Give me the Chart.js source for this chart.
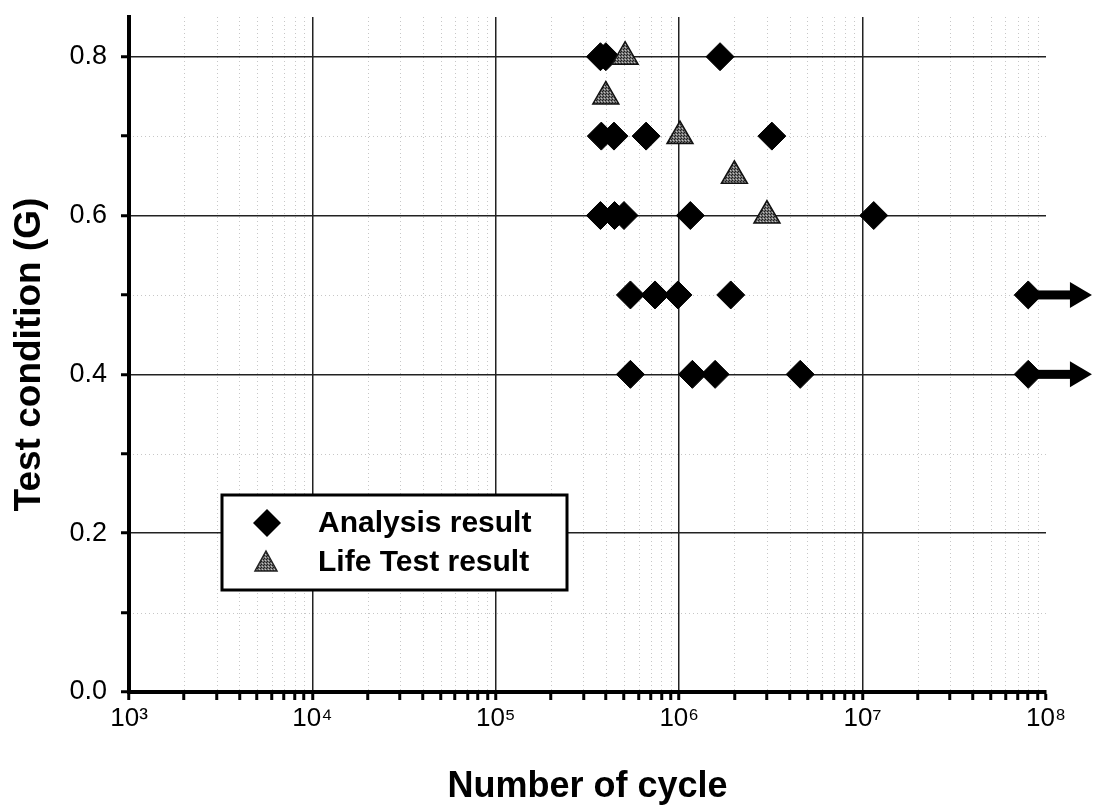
<!DOCTYPE html>
<html>
<head>
<meta charset="utf-8">
<script src="https://cdn.jsdelivr.net/npm/chart.js@4.4.1/dist/chart.umd.min.js"></script>
<style>
  body { margin: 0; background: #fff; }
  #wrap { width: 1093px; height: 809px; }
</style>
</head>
<body>
<div id="wrap"><canvas id="myChart" width="1093" height="809"></canvas></div>
<script>
// decades and minor multipliers of the log axis
const xMajor = [1e3, 1e4, 1e5, 1e6, 1e7, 1e8];
const xMinorMult = [2, 3, 4, 5, 6, 7, 8, 9];
const yTicks = [0, 0.1, 0.2, 0.3, 0.4, 0.5, 0.6, 0.7, 0.8];

// Analysis result (diamonds)
const analysisCycles = [3.72e5, 3.98e5, 1.67e6,
                        3.76e5, 4.41e5, 6.6e5, 3.2e6,
                        3.72e5, 4.44e5, 5.0e5, 1.15e6, 1.15e7,
                        5.42e5, 7.38e5, 9.84e5, 1.91e6, 8.0e7,
                        5.42e5, 1.18e6, 1.57e6, 4.57e6, 8.0e7];
const analysisG = [0.8, 0.8, 0.8,
                   0.7, 0.7, 0.7, 0.7,
                   0.6, 0.6, 0.6, 0.6, 0.6,
                   0.5, 0.5, 0.5, 0.5, 0.5,
                   0.4, 0.4, 0.4, 0.4, 0.4];

// Life Test result (triangles)
const lifeCycles = [5.07e5, 3.98e5, 1.01e6, 2.0e6, 3.01e6];
const lifeG = [0.8, 0.75, 0.7, 0.65, 0.6];

// run-out arrows (no failure yet)
const arrowG = [0.5, 0.4];
const arrowFrom = [8.0e7, 8.0e7];
const arrowTo = [1.78e8, 1.78e8];

const FONT = '"Liberation Sans", Arial, sans-serif';
const sup = {'0':'⁰','1':'¹','2':'²','3':'³','4':'⁴','5':'⁵','6':'⁶','7':'⁷','8':'⁸','9':'⁹'};

let xTickValues = [];
xMajor.forEach((d, i) => {
    xTickValues.push(d);
    if (i < xMajor.length - 1) xMinorMult.forEach(m => xTickValues.push(d * m));
});
const isMajorX = v => xMajor.includes(v);
const isMajorY = v => Math.round(v * 10) % 2 === 0;

// grey dotted fill for the triangles
const pc = document.createElement('canvas');
pc.width = 3; pc.height = 3;
const pctx = pc.getContext('2d');
pctx.fillStyle = '#707070';
pctx.fillRect(0, 0, 3, 3);
pctx.fillStyle = '#1e1e1e';
pctx.fillRect(0, 0, 1, 1);
pctx.fillRect(2, 1, 1, 1);
pctx.fillStyle = '#c4c4c4';
pctx.fillRect(1, 2, 1, 1);
const ctx = document.getElementById('myChart').getContext('2d');
const triFill = ctx.createPattern(pc, 'repeat');

const minorGrid = {
    id: 'minorGrid',
    beforeDatasetsDraw(chart) {
        const {ctx, chartArea: a, scales: {x, y}} = chart;
        ctx.save();
        ctx.strokeStyle = 'rgba(0,0,0,0.22)';
        ctx.lineWidth = 1;
        ctx.setLineDash([1, 3]);
        xTickValues.filter(v => !isMajorX(v)).forEach(v => {
            const px = Math.round(x.getPixelForValue(v)) + 0.5;
            ctx.beginPath(); ctx.moveTo(px, a.top); ctx.lineTo(px, a.bottom); ctx.stroke();
        });
        yTicks.filter(v => !isMajorY(v)).forEach(v => {
            const py = Math.round(y.getPixelForValue(v)) + 0.5;
            ctx.beginPath(); ctx.moveTo(a.left, py); ctx.lineTo(a.right, py); ctx.stroke();
        });
        ctx.restore();
    }
};

const arrows = {
    id: 'arrows',
    afterDatasetsDraw(chart) {
        const {ctx, scales: {x, y}} = chart;
        ctx.save();
        ctx.fillStyle = '#000';
        arrowG.forEach((g, i) => {
            const x1 = x.getPixelForValue(arrowFrom[i]);
            const x2 = x.getPixelForValue(arrowTo[i]);
            const py = y.getPixelForValue(g);
            ctx.fillRect(x1, py - 4.5, x2 - 20 - x1, 9);
            ctx.beginPath();
            ctx.moveTo(x2, py);
            ctx.lineTo(x2 - 22, py - 13);
            ctx.lineTo(x2 - 22, py + 13);
            ctx.closePath();
            ctx.fill();
        });
        ctx.restore();
    }
};

const boxLegend = {
    id: 'boxLegend',
    afterDraw(chart) {
        const c = chart.ctx;
        c.save();
        c.fillStyle = '#fff';
        c.fillRect(222, 495, 345, 95);
        c.strokeStyle = '#000';
        c.lineWidth = 3;
        c.strokeRect(222, 495, 345, 95);
        // diamond
        c.fillStyle = '#000';
        c.beginPath();
        c.moveTo(267, 509); c.lineTo(281, 523); c.lineTo(267, 537); c.lineTo(253, 523);
        c.closePath(); c.fill();
        // triangle
        c.fillStyle = triFill;
        c.strokeStyle = '#222';
        c.lineWidth = 1.5;
        c.beginPath();
        c.moveTo(266, 551); c.lineTo(277, 571); c.lineTo(255, 571);
        c.closePath(); c.fill(); c.stroke();
        c.fillStyle = '#000';
        c.font = 'bold 30px ' + FONT;
        c.textBaseline = 'middle';
        c.fillText(chart.data.datasets[0].label, 318, 524);
        c.fillText(chart.data.datasets[1].label, 318, 563);
        c.restore();
    }
};

const chart = new Chart(ctx, {
    type: 'scatter',
    data: {
        datasets: [{
            label: 'Analysis result',
            data: analysisCycles.map((c, i) => ({x: c, y: analysisG[i]})),
            pointStyle: 'rectRot',
            pointRadius: 14,
            backgroundColor: '#000',
            borderColor: '#000',
            borderWidth: 1,
            order: 1
        }, {
            label: 'Life Test result',
            data: lifeCycles.map((c, i) => ({x: c, y: lifeG[i]})),
            pointStyle: 'triangle',
            pointRadius: 15,
            backgroundColor: triFill,
            borderColor: '#111',
            borderWidth: 1.5,
            order: 0
        }]
    },
    options: {
        responsive: false,
        animation: false,
        layout: { padding: { top: 17, right: 47, left: 0, bottom: 0 } },
        plugins: { legend: { display: false }, tooltip: { enabled: false } },
        scales: {
            x: {
                type: 'logarithmic',
                min: 1e3,
                max: 1e8,
                afterBuildTicks: s => { s.ticks = xTickValues.map(v => ({value: v})); },
                afterFit: s => { s.height = 117; s.paddingLeft = 0; s.paddingRight = 0; },
                border: { color: '#000', width: 4 },
                grid: {
                    color: c => (c.tick && isMajorX(c.tick.value) && c.tick.value !== 1e8) ? '#222' : 'rgba(0,0,0,0)',
                    lineWidth: 1.5,
                    tickColor: '#000',
                    tickWidth: 3,
                    tickLength: 8
                },
                ticks: {
                    autoSkip: false,
                    maxRotation: 0,
                    padding: 3,
                    color: '#000',
                    font: { family: FONT, size: 26 },
                    callback: v => isMajorX(v) ? '10' + sup[String(Math.round(Math.log10(v)))] : ''
                },
                title: {
                    display: true,
                    text: 'Number of cycle',
                    color: '#000',
                    font: { family: FONT, size: 36, weight: 'bold' },
                    padding: { top: 0, bottom: 0 }
                }
            },
            y: {
                min: 0,
                max: 0.85,
                afterBuildTicks: s => { s.ticks = yTicks.map(v => ({value: v})); },
                afterFit: s => { s.width = 129; s.paddingTop = 0; s.paddingBottom = 0; },
                border: { color: '#000', width: 4 },
                grid: {
                    color: c => (c.tick && isMajorY(c.tick.value)) ? '#222' : 'rgba(0,0,0,0)',
                    lineWidth: 1.5,
                    tickColor: '#000',
                    tickWidth: 3,
                    tickLength: 8
                },
                ticks: {
                    autoSkip: false,
                    padding: 14,
                    color: '#000',
                    font: { family: FONT, size: 27 },
                    callback: v => isMajorY(v) ? v.toFixed(1) : ''
                },
                title: {
                    display: true,
                    text: 'Test condition (G)',
                    color: '#000',
                    font: { family: FONT, size: 37, weight: 'bold' },
                    padding: { top: 8, bottom: 0 }
                }
            }
        }
    },
    plugins: [minorGrid, arrows, boxLegend]
});
</script>
</body>
</html>
